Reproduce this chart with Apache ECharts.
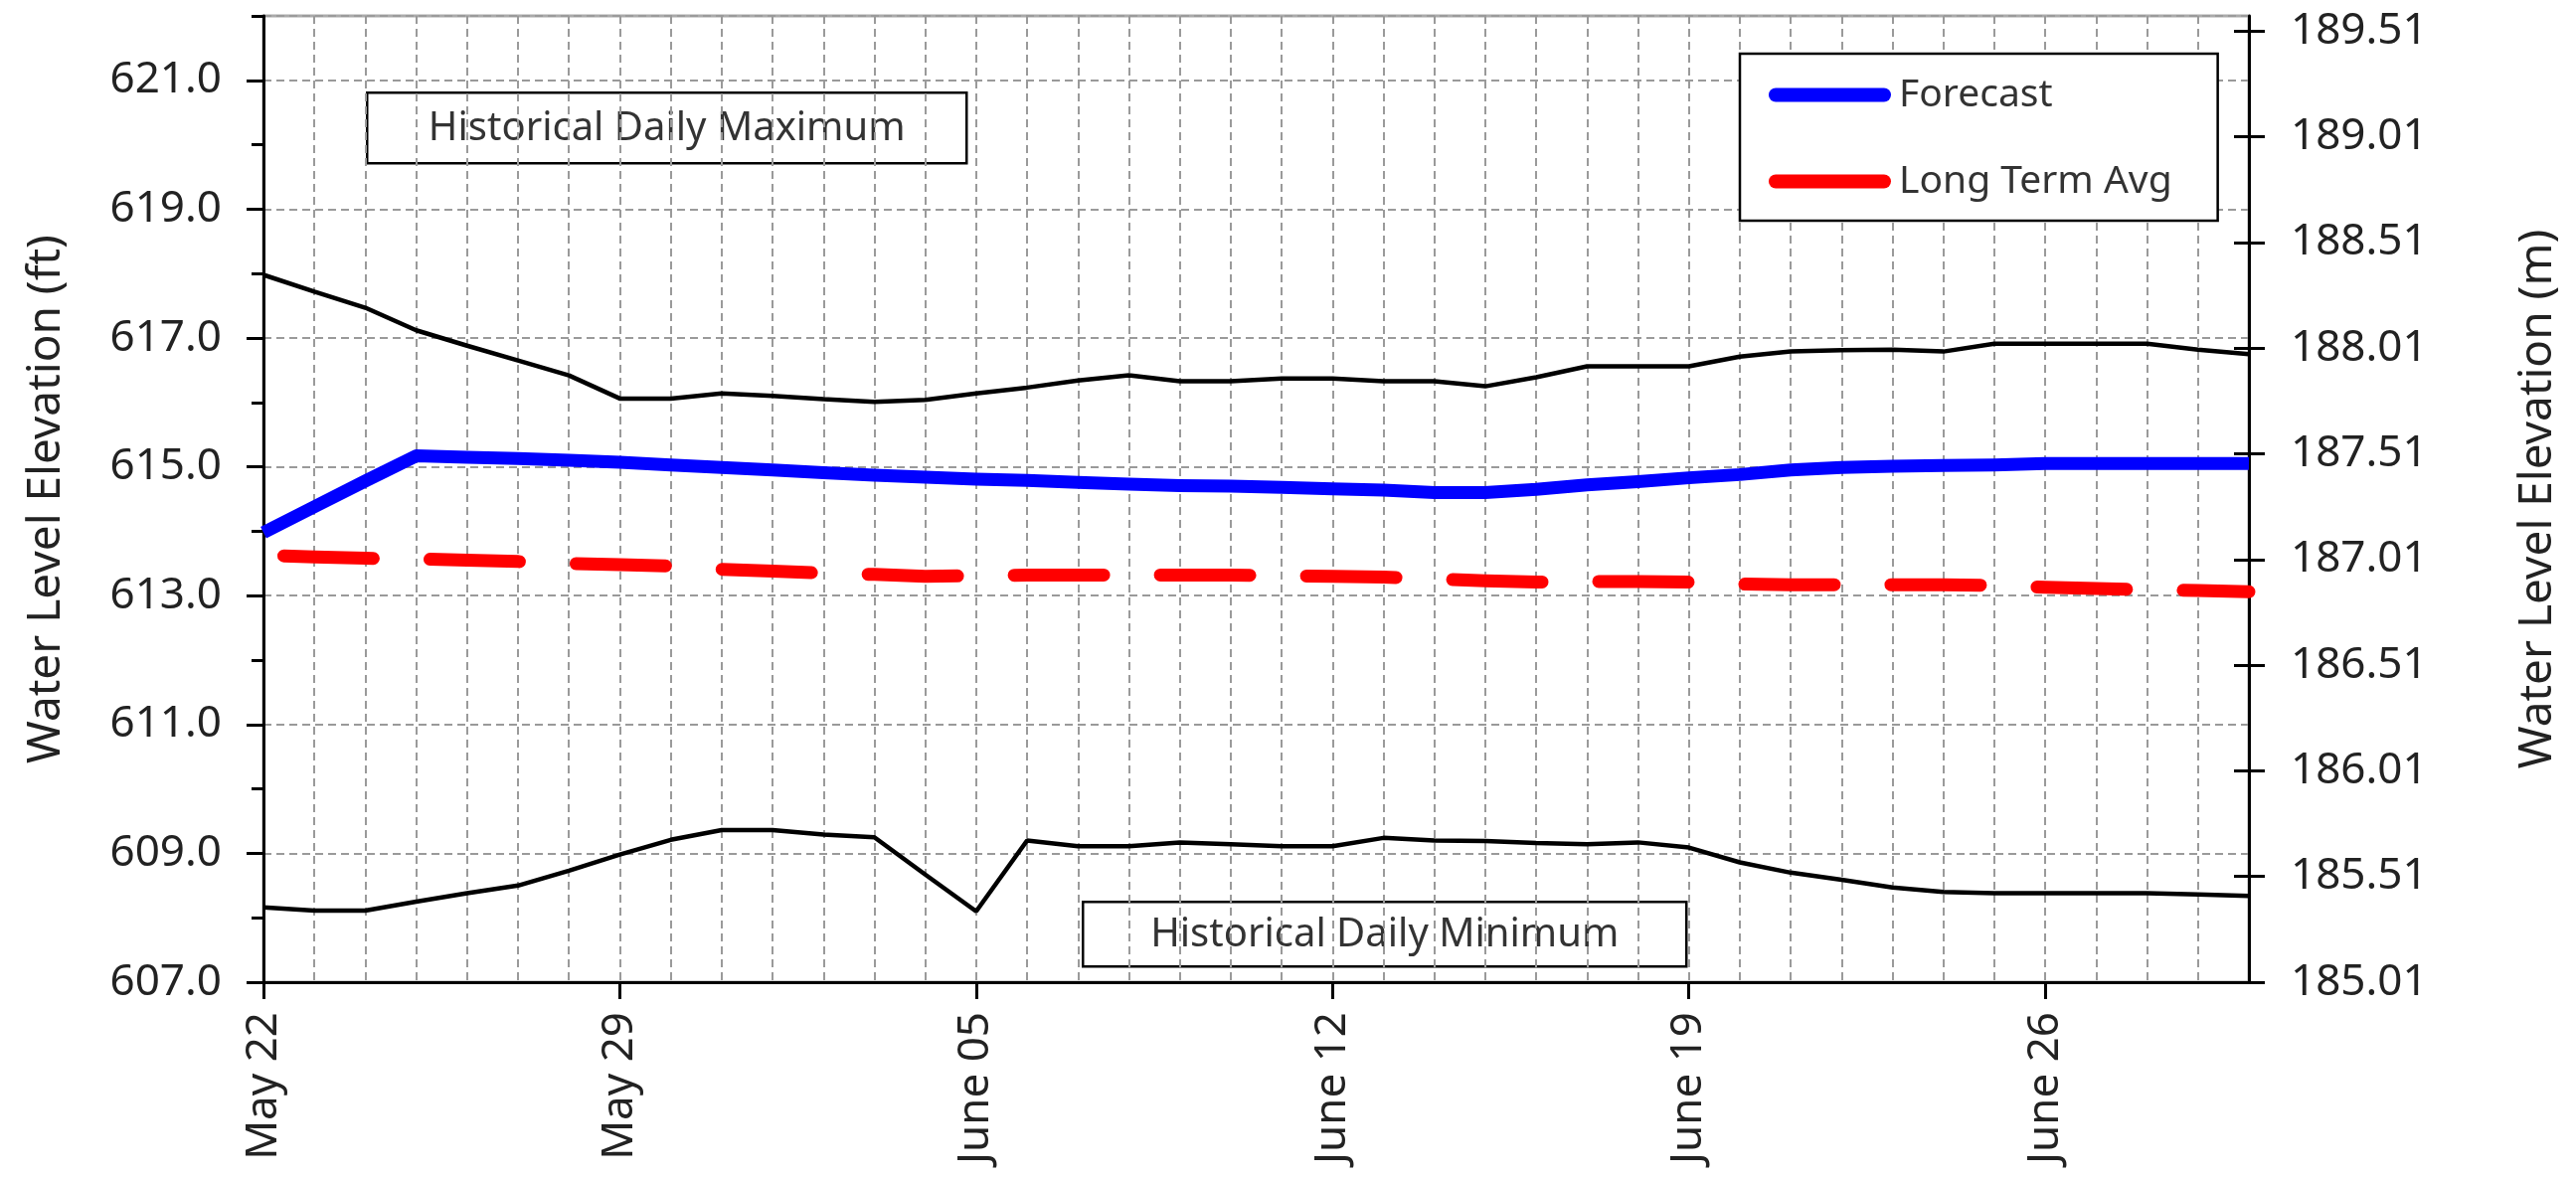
<!DOCTYPE html>
<html>
<head>
<meta charset="utf-8">
<script src="https://cdn.jsdelivr.net/npm/echarts@6/dist/echarts.min.js"></script>
<style>
html,body{margin:0;padding:0;background:#fff;}
#chart{width:2591px;height:1186px;}
</style>
</head>
<body>
<div id="chart"></div>
<script>
// ---------- data ----------
const dates = ["May 22","May 23","May 24","May 25","May 26","May 27","May 28","May 29","May 30","May 31",
  "June 01","June 02","June 03","June 04","June 05","June 06","June 07","June 08","June 09","June 10",
  "June 11","June 12","June 13","June 14","June 15","June 16","June 17","June 18","June 19","June 20",
  "June 21","June 22","June 23","June 24","June 25","June 26","June 27","June 28","June 29","June 30"];

const forecast = [613.98,614.38,614.78,615.17,615.15,615.13,615.10,615.07,615.03,614.99,
  614.95,614.91,614.87,614.84,614.81,614.79,614.76,614.73,614.71,614.70,
  614.68,614.66,614.64,614.60,614.60,614.65,614.72,614.77,614.83,614.88,
  614.95,614.99,615.01,615.02,615.03,615.05,615.05,615.05,615.05,615.05];

const longTermAvg = [613.63,613.60,613.58,613.57,613.55,613.53,613.50,613.48,613.46,613.41,
  613.38,613.35,613.33,613.30,613.31,613.32,613.32,613.32,613.32,613.32,
  613.31,613.30,613.29,613.26,613.23,613.21,613.22,613.22,613.21,613.18,
  613.17,613.17,613.17,613.17,613.16,613.13,613.11,613.09,613.08,613.06];

const histMax = [617.98,617.72,617.47,617.12,616.88,616.65,616.42,616.06,616.06,616.14,
  616.10,616.05,616.01,616.04,616.14,616.23,616.34,616.42,616.33,616.33,
  616.37,616.37,616.33,616.33,616.25,616.39,616.56,616.56,616.56,616.71,
  616.79,616.81,616.82,616.79,616.91,616.91,616.91,616.91,616.82,616.75];

const histMin = [608.16,608.11,608.11,608.25,608.38,608.50,608.73,608.98,609.21,609.36,
  609.36,609.29,609.25,608.67,608.10,609.20,609.11,609.11,609.17,609.14,
  609.11,609.11,609.24,609.20,609.19,609.16,609.14,609.17,609.09,608.86,
  608.70,608.59,608.47,608.40,608.38,608.38,608.38,608.38,608.36,608.34];

const ftLabelTicks = [607,609,611,613,615,617,619,621];
const ftMinorTicks = [608,610,612,614,616,618,620,622];
const mLabelTicks = [185.01,185.51,186.01,186.51,187.01,187.51,188.01,188.51,189.01,189.51];

const FT_MIN = 607, FT_MAX = 622;
const M_MIN = 185.01, M_MAX = 185.01 + (FT_MAX - FT_MIN) * 0.3048;

// ---------- chart ----------
const FONT = 'Noto Sans';
const chart = echarts.init(document.getElementById('chart'), null, {renderer: 'canvas'});

const capsule = 'path://M7,0 L116,0 A7,7 0 0 1 116,14 L7,14 A7,7 0 0 1 7,0 Z';
const gridLine = {color: '#9a9a9a', width: 2, type: [8, 5]};

const option = {
  backgroundColor: '#ffffff',
  animation: false,
  grid: {
    left: 265, right: 329, top: 16, bottom: 198,
    containLabel: false, outerBoundsMode: 'none',
    show: true, borderColor: '#aaaaaa', borderWidth: 3, backgroundColor: 'transparent'
  },
  legend: {
    left: 1750, top: 54,
    orient: 'vertical',
    backgroundColor: '#ffffff',
    borderColor: '#000000', borderWidth: 2.5, borderRadius: 0,
    padding: [22, 46, 20, 29],
    itemGap: 48,
    itemWidth: 123, itemHeight: 14,
    selectedMode: false,
    textStyle: {fontFamily: FONT, fontSize: 39, color: '#333333', padding: [0,0,0,3]},
    data: [
      {name: 'Forecast', icon: capsule, itemStyle: {color: '#0000ff'}},
      {name: 'Long Term Avg', icon: capsule, itemStyle: {color: '#ff0000'}}
    ],
    z: 10
  },
  xAxis: {
    type: 'category',
    data: dates,
    boundaryGap: false,
    axisLine: {show: true, lineStyle: {color: '#000', width: 3}},
    axisTick: {show: true, interval: 6, length: 17, lineStyle: {color: '#000', width: 3}},
    axisLabel: {interval: 6, rotate: 90, margin: 30, fontFamily: FONT, fontSize: 44, color: '#222'},
    splitLine: {show: true, interval: 0, lineStyle: gridLine}
  },
  yAxis: [
    { // 0: left, data axis in feet
      type: 'value', position: 'left', min: FT_MIN, max: FT_MAX,
      name: 'Water Level Elevation (ft)', nameLocation: 'middle', nameRotate: 90, nameGap: 195,
      nameTextStyle: {fontFamily: FONT, fontSize: 46, color: '#222'},
      axisLine: {show: true, lineStyle: {color: '#000', width: 3}},
      axisTick: {show: true, length: 17, customValues: ftLabelTicks, lineStyle: {color: '#000', width: 3}},
      axisLabel: {show: true, customValues: ftLabelTicks, margin: 42, fontFamily: FONT, fontSize: 44, color: '#222',
        formatter: v => Number(v).toFixed(1)},
      splitLine: {show: false}
    },
    { // 1: right, metres
      type: 'value', position: 'right', min: M_MIN, max: M_MAX,
      name: 'Water Level Elevation (m)', nameLocation: 'middle', nameRotate: 90, nameGap: 268,
      nameTextStyle: {fontFamily: FONT, fontSize: 46, color: '#222'},
      axisLine: {show: true, lineStyle: {color: '#000', width: 3}},
      axisTick: {show: true, length: 16, customValues: mLabelTicks, lineStyle: {color: '#000', width: 3}},
      axisLabel: {show: true, customValues: mLabelTicks, margin: 42, fontFamily: FONT, fontSize: 44, color: '#222',
        formatter: v => Number(v).toFixed(2)},
      splitLine: {show: false}
    },
    { // 2: right, inward ticks
      type: 'value', position: 'right', min: M_MIN, max: M_MAX,
      axisLine: {show: false},
      axisTick: {show: true, inside: true, length: 15, customValues: mLabelTicks, lineStyle: {color: '#000', width: 3}},
      axisLabel: {show: false},
      splitLine: {show: false}
    },
    { // 3: left minor ticks
      type: 'value', position: 'left', min: FT_MIN, max: FT_MAX,
      axisLine: {show: false},
      axisTick: {show: true, length: 12, customValues: ftMinorTicks, lineStyle: {color: '#000', width: 3}},
      axisLabel: {show: false},
      splitLine: {show: false}
    },
    { // 4: horizontal grid lines (offset from 607 ft, every 2 ft)
      type: 'value', position: 'left', min: 0, max: FT_MAX - FT_MIN, interval: 2,
      axisLine: {show: false}, axisTick: {show: false}, axisLabel: {show: false},
      splitLine: {show: true, lineStyle: gridLine}
    }
  ],
  graphic: [
    {
      type: 'group', left: 368, top: 92, z: 20,
      children: [
        {type: 'rect', shape: {x: 0, y: 0, width: 603, height: 71},
         style: {fill: '#fff', stroke: '#000', lineWidth: 2.5}},
        {type: 'text', x: 301.5, y: 36,
         style: {text: 'Historical Daily Maximum', fontFamily: FONT, fontSize: 40, fill: '#333',
                 textAlign: 'center', textVerticalAlign: 'middle'}}
      ]
    },
    {
      type: 'group', left: 1088, top: 906, z: 20,
      children: [
        {type: 'rect', shape: {x: 0, y: 0, width: 607, height: 65},
         style: {fill: '#fff', stroke: '#000', lineWidth: 2.5}},
        {type: 'text', x: 303.5, y: 33,
         style: {text: 'Historical Daily Minimum', fontFamily: FONT, fontSize: 40, fill: '#333',
                 textAlign: 'center', textVerticalAlign: 'middle'}}
      ]
    }
  ],
  series: [
    {
      name: 'Historical Daily Maximum', type: 'line', yAxisIndex: 0, data: histMax,
      symbol: 'none', silent: true, z: 3,
      lineStyle: {color: '#000', width: 4.5}, itemStyle: {color: '#000'}
    },
    {
      name: 'Historical Daily Minimum', type: 'line', yAxisIndex: 0, data: histMin,
      symbol: 'none', silent: true, z: 3,
      lineStyle: {color: '#000', width: 4.5}, itemStyle: {color: '#000'}
    },
    {
      name: 'Forecast', type: 'line', yAxisIndex: 0, data: forecast,
      symbol: 'none', z: 4,
      lineStyle: {color: '#0000ff', width: 13, join: 'round'}, itemStyle: {color: '#0000ff'}
    },
    {
      name: 'Long Term Avg', type: 'line', yAxisIndex: 0, data: longTermAvg,
      symbol: 'none', z: 4,
      lineStyle: {color: '#ff0000', width: 13, type: [90, 57], dashOffset: 126.5, cap: 'round', join: 'round'},
      itemStyle: {color: '#ff0000'}
    }
  ]
};
chart.setOption(option);
</script>
</body>
</html>
